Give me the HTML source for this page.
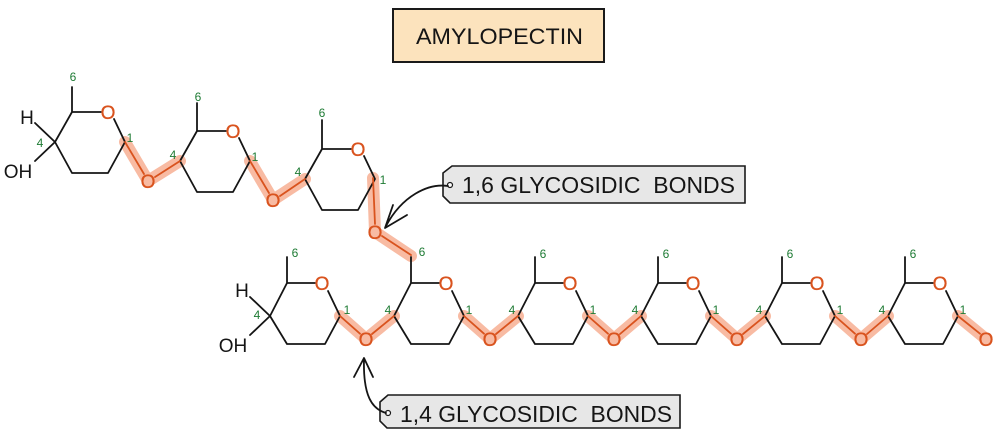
<!DOCTYPE html>
<html><head><meta charset="utf-8"><style>
html,body{margin:0;padding:0;background:#fff;}
svg{display:block;}
text{font-family:"Liberation Sans",sans-serif;}
.bk{fill:none;stroke:#151515;stroke-width:1.8;stroke-linejoin:round;stroke-linecap:round;}
.hl{fill:none;stroke:#f8bba3;stroke-width:12;stroke-linecap:round;stroke-linejoin:round;}
.or{fill:none;stroke:#d9531e;stroke-width:1.8;stroke-linecap:round;}
.ot{fill:#d9531e;font-size:19px;text-anchor:middle;stroke:#d9531e;stroke-width:0.3;}
.n{fill:#1e7b34;font-size:12px;text-anchor:middle;}
.ho{fill:#151515;font-size:19px;text-anchor:middle;}
</style></head><body>
<svg width="998" height="440" viewBox="0 0 998 440" xmlns="http://www.w3.org/2000/svg">
<!-- highlights -->
<g class="hl">
<polyline points="125,142 148,181 180,161"/>
<polyline points="250,161 273,200 305,179"/>
<polyline points="373,178 375,232 411,256"/>
<polyline points="340,316 366,339 394,316"/>
<polyline points="464,316 490,339 518,316"/>
<polyline points="588,316 614,339 641,316"/>
<polyline points="711,316 737,339 765,316"/>
<polyline points="835,316 861,339 888,316"/>
<polyline points="958,316 986,339"/>
</g>
<!-- title -->
<rect x="393" y="9" width="211" height="53" fill="#fce3bd" stroke="#1a1a1a" stroke-width="2"/>
<text x="499.5" y="44" font-size="22.5" fill="#151515" text-anchor="middle" textLength="167" lengthAdjust="spacingAndGlyphs">AMYLOPECTIN</text>

<!-- top rings -->
<g transform="translate(55,142)">
<path class="bk" d="M46,-30 H17 L0,0 L17,31 H53 L70,0 L59,-23 M17,-30 V-55"/>
<text class="ot" x="53" y="-23">O</text>
</g>
<g transform="translate(180,161)">
<path class="bk" d="M46,-30 H17 L0,0 L17,31 H53 L70,0 L59,-23 M17,-30 V-58"/>
<text class="ot" x="53" y="-23">O</text>
</g>
<g transform="translate(305,179)">
<path class="bk" d="M46,-30 H17 L0,0 L17,31 H53 L70,0 L59,-23 M17,-30 V-59"/>
<text class="ot" x="53" y="-23">O</text>
</g>
<!-- top H / OH -->
<path class="bk" d="M35,123 L55,142 L35,161"/>
<text class="ho" x="27" y="124">H</text>
<text class="ho" x="18" y="178">OH</text>

<!-- top bridging -->
<path class="or" d="M125,142 L144,174 M155,177 L180,161 M250,161 L269,193 M280,196 L305,179 M373,178 L375,224 M382,236 L411,255"/>
<text class="ot" x="148" y="188">O</text>
<text class="ot" x="273" y="207">O</text>
<text class="ot" x="375" y="239">O</text>

<!-- bottom rings -->
<g transform="translate(270,316)"><path class="bk" d="M45,-33 H17 L0,0 L17,28 H55 L70,0 L58,-25 M17,-33 V-59"/><text class="ot" x="52" y="-26">O</text></g>
<g transform="translate(394,316)"><path class="bk" d="M45,-33 H17 L0,0 L17,28 H55 L70,0 L58,-25 M17,-33 V-59"/><text class="ot" x="52" y="-26">O</text></g>
<g transform="translate(518,316)"><path class="bk" d="M45,-33 H17 L0,0 L17,28 H55 L70,0 L58,-25 M17,-33 V-59"/><text class="ot" x="52" y="-26">O</text></g>
<g transform="translate(641,316)"><path class="bk" d="M45,-33 H17 L0,0 L17,28 H55 L70,0 L58,-25 M17,-33 V-59"/><text class="ot" x="52" y="-26">O</text></g>
<g transform="translate(765,316)"><path class="bk" d="M45,-33 H17 L0,0 L17,28 H55 L70,0 L58,-25 M17,-33 V-59"/><text class="ot" x="52" y="-26">O</text></g>
<g transform="translate(888,316)"><path class="bk" d="M45,-33 H17 L0,0 L17,28 H55 L70,0 L58,-25 M17,-33 V-59"/><text class="ot" x="52" y="-26">O</text></g>

<!-- bottom H / OH -->
<path class="bk" d="M250,297 L270,316 L250,335"/>
<text class="ho" x="242" y="297">H</text>
<text class="ho" x="233" y="352">OH</text>

<!-- bottom bridging -->
<path class="or" d="M340,316 L360,333.7 M372,334 L394,316 M464,316 L484,333.7 M496,334 L518,316 M588,316 L608,333.7 M620,334 L641,316 M711,316 L731,333.7 M743,334 L765,316 M835,316 L855,333.7 M867,334 L888,316 M958,316 L980,333.7"/>
<text class="ot" x="366" y="346">O</text>
<text class="ot" x="490" y="346">O</text>
<text class="ot" x="614" y="346">O</text>
<text class="ot" x="737" y="346">O</text>
<text class="ot" x="861" y="346">O</text>
<text class="ot" x="986" y="346">O</text>

<!-- numbers top -->
<text class="n" x="73" y="81">6</text><text class="n" x="40" y="147">4</text><text class="n" x="130" y="142">1</text>
<text class="n" x="198" y="101">6</text><text class="n" x="173" y="159">4</text><text class="n" x="255" y="161">1</text>
<text class="n" x="322" y="117">6</text><text class="n" x="298" y="176">4</text><text class="n" x="383" y="184">1</text>
<!-- numbers bottom -->
<text class="n" x="295" y="257">6</text><text class="n" x="257" y="319">4</text><text class="n" x="347" y="314">1</text>
<text class="n" x="422" y="256">6</text><text class="n" x="388" y="314">4</text><text class="n" x="469" y="314">1</text>
<text class="n" x="543" y="258">6</text><text class="n" x="512" y="314">4</text><text class="n" x="593" y="314">1</text>
<text class="n" x="666" y="258">6</text><text class="n" x="635" y="314">4</text><text class="n" x="716" y="314">1</text>
<text class="n" x="790" y="258">6</text><text class="n" x="759" y="314">4</text><text class="n" x="840" y="314">1</text>
<text class="n" x="913" y="258">6</text><text class="n" x="882" y="314">4</text><text class="n" x="963" y="314">1</text>

<!-- tag 1,6 -->
<polygon points="452,166 745,166 745,203 450,203 443,196 443,173" fill="#e7e7e7" stroke="#1a1a1a" stroke-width="1.6"/>
<circle cx="450" cy="185" r="2.5" fill="#fff" stroke="#1a1a1a" stroke-width="1.2"/>
<text x="462" y="193" font-size="23" fill="#151515" textLength="273" lengthAdjust="spacingAndGlyphs" xml:space="preserve">1,6 GLYCOSIDIC  BONDS</text>
<path class="bk" d="M448,186 C428,183 402,196 386,226 M393,205 L385,228 L407,215"/>

<!-- tag 1,4 -->
<polygon points="388,395 680,395 680,428 387,428 380,421 380,402" fill="#e7e7e7" stroke="#1a1a1a" stroke-width="1.6"/>
<circle cx="388" cy="413" r="2.5" fill="#fff" stroke="#1a1a1a" stroke-width="1.2"/>
<text x="400" y="422" font-size="23" fill="#151515" textLength="272" lengthAdjust="spacingAndGlyphs" xml:space="preserve">1,4 GLYCOSIDIC  BONDS</text>
<path class="bk" d="M386,413 C372,409 363,396 364,359 M354,377 L364,358 L373,377"/>
</svg>
</body></html>
